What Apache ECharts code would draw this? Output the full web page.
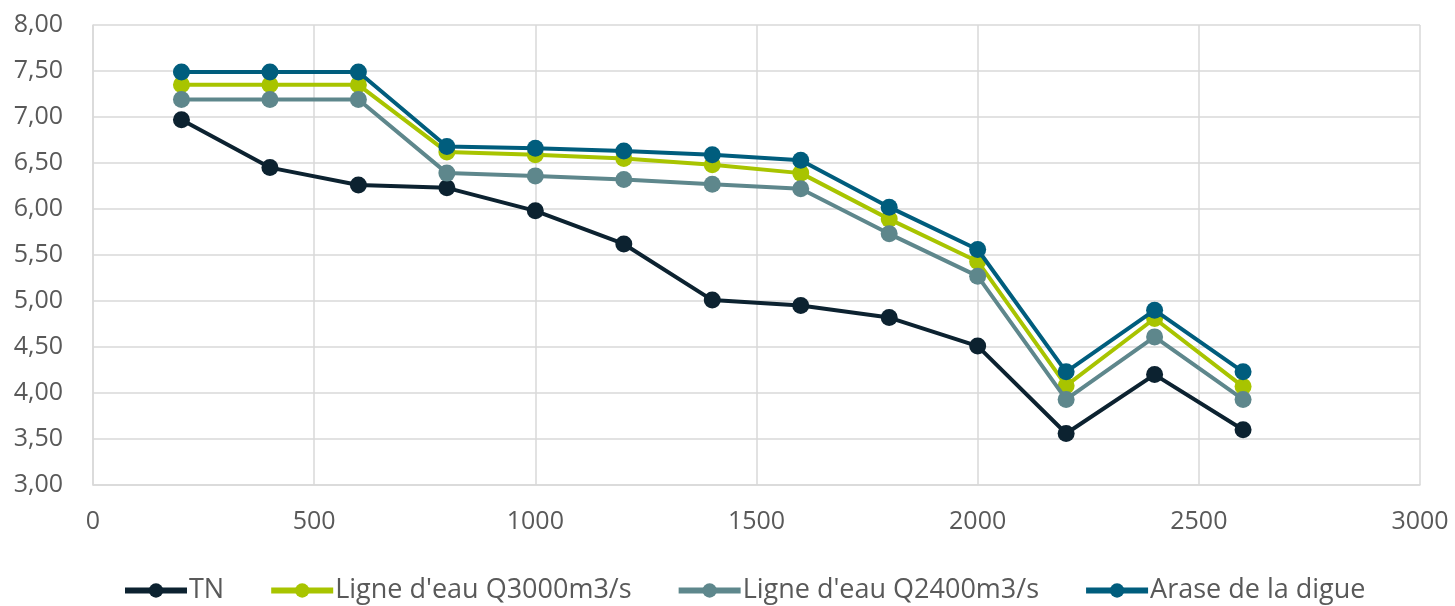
<!DOCTYPE html>
<html><head><meta charset="utf-8">
<script src="https://cdn.jsdelivr.net/npm/echarts@6/dist/echarts.min.js"></script>
<style>html,body{margin:0;padding:0;background:#fff}#c{width:1455px;height:606px}</style>
</head><body><div id="c"></div>
<script>
const distances = [200, 400, 600, 800, 1000, 1200, 1400, 1600, 1800, 2000, 2200, 2400, 2600];
const tn      = [6.97, 6.45, 6.26, 6.23, 5.98, 5.62, 5.01, 4.95, 4.82, 4.51, 3.56, 4.20, 3.60];
const q3000   = [7.35, 7.35, 7.35, 6.62, 6.59, 6.55, 6.48, 6.39, 5.89, 5.43, 4.08, 4.81, 4.07];
const q2400   = [7.19, 7.19, 7.19, 6.39, 6.36, 6.32, 6.27, 6.22, 5.73, 5.27, 3.93, 4.61, 3.93];
const arase   = [7.49, 7.49, 7.49, 6.68, 6.66, 6.63, 6.59, 6.53, 6.02, 5.56, 4.23, 4.90, 4.23];
const seriesNames = ['TN', "Ligne d'eau Q3000m3/s", "Ligne d'eau Q2400m3/s", 'Arase de la digue'];
const colors = ['#0c2230', '#a8c400', '#5e878c', '#005d7d'];

const pair = arr => distances.map((d, i) => [d, arr[i]]);
const data = [tn, q3000, q2400, arase];
const font = '"Open Sans", "Noto Sans", sans-serif';

const chart = echarts.init(document.getElementById('c'), null, {renderer: 'canvas'});
chart.setOption({
  animation: false,
  textStyle: {fontFamily: font},
  grid: {left: 93, right: 35, top: 25, bottom: 121},
  xAxis: {
    type: 'value', min: 0, max: 3000, interval: 500,
    axisLine: {show: true, lineStyle: {color: '#d9d9d9', width: 1.5}},
    axisTick: {show: false},
    splitLine: {show: true, lineStyle: {color: '#d9d9d9', width: 1.5}},
    axisLabel: {color: '#595959', fontSize: 25, fontFamily: font, margin: 24,
      formatter: v => String(v)}
  },
  yAxis: {
    type: 'value', min: 3, max: 8, interval: 0.5,
    axisLine: {show: true, lineStyle: {color: '#d9d9d9', width: 1.5}},
    axisTick: {show: false},
    splitLine: {show: true, lineStyle: {color: '#d9d9d9', width: 1.5}},
    axisLabel: {color: '#595959', fontSize: 25, fontFamily: font, margin: 30,
      formatter: v => v.toFixed(2).replace('.', ',')}
  },
  legend: {
    top: 572, left: 117, itemGap: 44, itemWidth: 62, itemHeight: 18,
    lineStyle: {width: 6},
    textStyle: {color: '#595959', fontSize: 27, fontFamily: font, padding: [0, 0, 0, -3]},
    data: seriesNames
  },
  series: seriesNames.map((n, i) => ({
    name: n, type: 'line', data: pair(data[i]),
    symbol: 'circle', symbolSize: 17,
    lineStyle: {color: colors[i], width: 4},
    itemStyle: {color: colors[i]},
    z: 2 + i
  }))
});
</script></body></html>
